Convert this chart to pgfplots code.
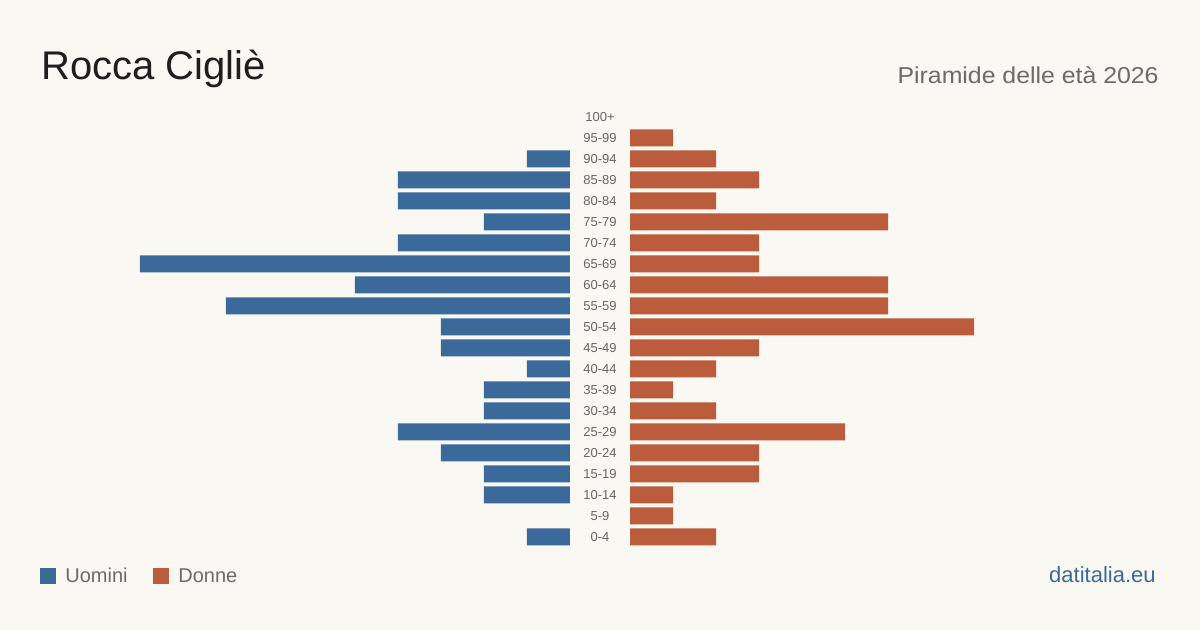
\documentclass[border=0pt]{standalone}
\usepackage{pgfplots}
\pgfplotsset{compat=1.18}
\usepackage{fontspec}
\setmainfont{Liberation Sans}
\definecolor{bg}{HTML}{FAF8F3}
\definecolor{men}{HTML}{3B6A9A}
\definecolor{women}{HTML}{BB5D3C}
\definecolor{tit}{HTML}{1E1E1E}
\definecolor{sub}{HTML}{6B6B6B}
\definecolor{lab}{HTML}{666666}
\begin{document}
\begin{tikzpicture}
\fill[bg] (0,0) rectangle (600pt,315pt);
\begin{axis}[at={(70pt,41.25pt)}, anchor=south west, scale only axis,
  width=215pt, height=220.5pt, xmin=0, xmax=10, x dir=reverse,
  ymin=-0.5, ymax=20.5, hide axis, xbar, bar width=8.5pt]
\addplot[fill=men, draw=none] coordinates {
(1,0) (2,2) (2,3) (3,4) (4,5) (2,6) (2,7) (1,8) (3,9) (3,10)
(8,11) (5,12) (10,13) (4,14) (2,15) (4,16) (4,17) (1,18)};
\end{axis}
\begin{axis}[at={(315pt,41.25pt)}, anchor=south west, scale only axis,
  width=215pt, height=220.5pt, xmin=0, xmax=10,
  ymin=-0.5, ymax=20.5, xbar, bar width=8.5pt,
  axis line style={draw=none}, major tick length=0pt, xtick=\empty,
  ytick={0,...,20},
  yticklabels={0-4,5-9,10-14,15-19,20-24,25-29,30-34,35-39,40-44,45-49,50-54,55-59,60-64,65-69,70-74,75-79,80-84,85-89,90-94,95-99,100+},
  yticklabel style={font=\fontsize{6.5}{8}\selectfont, text=lab, anchor=center, xshift=-15pt}]
\addplot[fill=women, draw=none] coordinates {
(2,0) (1,1) (1,2) (3,3) (3,4) (5,5) (2,6) (1,7) (2,8) (3,9) (8,10)
(6,11) (6,12) (3,13) (3,14) (6,15) (2,16) (3,17) (2,18) (1,19)};
\end{axis}
\node[anchor=base west, inner sep=0, text=tit, font=\fontsize{20}{24}\selectfont] at (20.5pt,275pt) {Rocca Cigliè};
\node[anchor=base east, inner sep=0, text=sub, font=\fontsize{11.5}{13}\selectfont, xscale=1.08] at (579.5pt,273pt) {Piramide delle età 2026};
\fill[men] (20pt,23pt) rectangle (28pt,31pt);
\node[anchor=base west, inner sep=0, text=sub, font=\fontsize{10}{12}\selectfont] at (32.5pt,23.5pt) {Uomini};
\fill[women] (76.5pt,23pt) rectangle (84.5pt,31pt);
\node[anchor=base west, inner sep=0, text=sub, font=\fontsize{10}{12}\selectfont] at (89pt,23.5pt) {Donne};
\node[anchor=base east, inner sep=0, text=men, font=\fontsize{11}{12}\selectfont] at (578pt,23.5pt) {datitalia.eu};
\end{tikzpicture}
\end{document}
